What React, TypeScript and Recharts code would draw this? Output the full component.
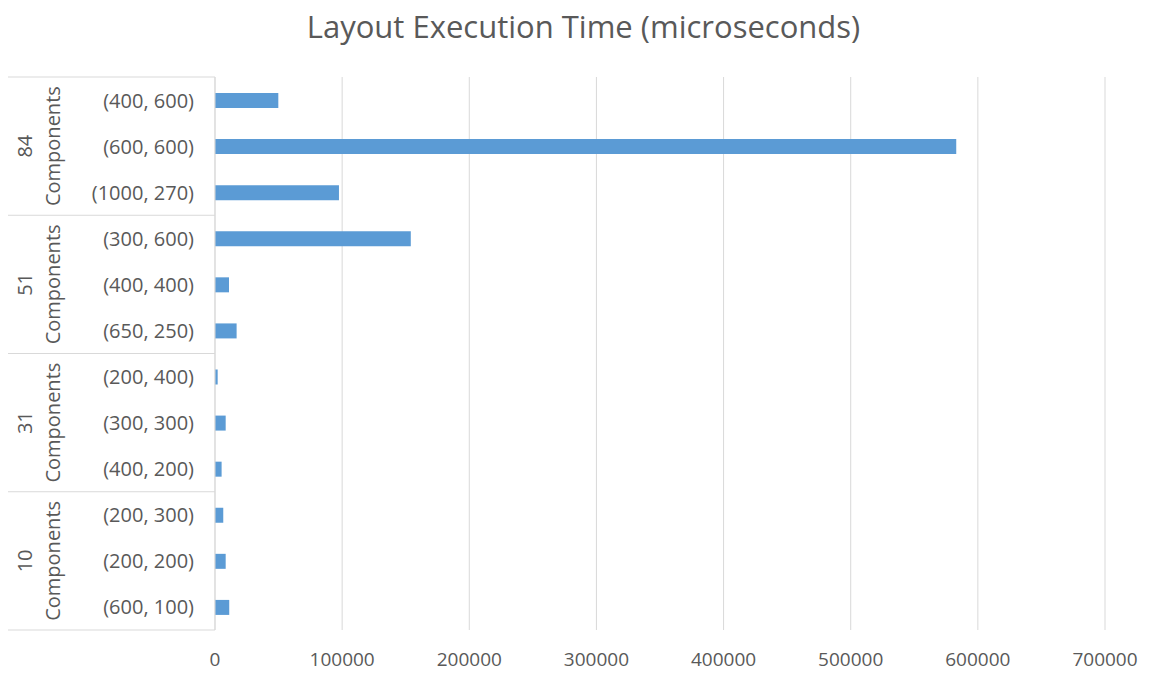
import { BarChart, Bar, XAxis, YAxis, CartesianGrid } from "recharts";

// groups of 3 screen sizes each, top to bottom as in the chart
const groupNames = ["84", "51", "31", "10"];
const configs = [
  "(400, 600)", "(600, 600)", "(1000, 270)",
  "(300, 600)", "(400, 400)", "(650, 250)",
  "(200, 400)", "(300, 300)", "(400, 200)",
  "(200, 300)", "(200, 200)", "(600, 100)",
];
const times = [
  49800, 583000, 97500,
  154000, 11000, 17000,
  2100, 8400, 5200,
  6500, 8400, 11200,
];
const xTicks = [0, 100000, 200000, 300000, 400000, 500000, 600000, 700000];

const FONT = "'Open Sans', sans-serif";
const TEXT = "#595959";
const GRID = "#d9d9d9";

const data = configs.map((c, i) => ({ id: i, config: c, time: times[i] }));

const CategoryTick = (props: any) => {
  const { x, y, payload } = props;
  const idx = payload.index;
  const half = payload.offset || 23;
  const first = idx % 3 === 0;
  const last = idx === configs.length - 1;
  return (
    <g>
      <text
        x={x - 21}
        y={y}
        textAnchor="end"
        dominantBaseline="central"
        fill={TEXT}
        fontSize={20}
        fontFamily={FONT}
      >
        {configs[idx]}
      </text>
      {first && (
        <>
          <line x1={8} x2={x} y1={y - half} y2={y - half} stroke={GRID} />
          <text
            transform={`translate(40, ${y + half * 2}) rotate(-90)`}
            textAnchor="middle"
            fill={TEXT}
            fontSize={20}
            fontFamily={FONT}
          >
            <tspan x={0} dy={-8}>{groupNames[Math.floor(idx / 3)]}</tspan>
            <tspan x={0} dy={28}>Components</tspan>
          </text>
        </>
      )}
      {last && <line x1={8} x2={x} y1={y + half} y2={y + half} stroke={GRID} />}
    </g>
  );
};

export default function App() {
  return (
    <div style={{ position: "relative", width: 1163, height: 677, background: "#fff" }}>
      <style>{"body{margin:0}"}</style>
      <div
        style={{
          position: "absolute",
          top: 5,
          left: 2,
          width: 1163,
          textAlign: "center",
          fontFamily: FONT,
          fontSize: 31,
          color: TEXT,
        }}
      >
        Layout Execution Time (microseconds)
      </div>
      <BarChart
        width={1163}
        height={677}
        data={data}
        layout="vertical"
        margin={{ top: 77, right: 58, bottom: 7, left: 0 }}
      >
        <CartesianGrid horizontal={false} stroke={GRID} />
        <XAxis
          type="number"
          domain={[0, 700000]}
          ticks={xTicks}
          axisLine={false}
          tickLine={false}
          height={40}
          tickMargin={17}
          tick={{ fill: TEXT, fontSize: 19, fontFamily: FONT }}
        />
        <YAxis
          type="category"
          dataKey="id"
          width={215}
          interval={0}
          tickLine={false}
          tickSize={0}
          tickMargin={0}
          axisLine={{ stroke: GRID }}
          tick={<CategoryTick />}
        />
        <Bar dataKey="time" fill="#5b9bd5" barSize={15} isAnimationActive={false} />
      </BarChart>
    </div>
  );
}
